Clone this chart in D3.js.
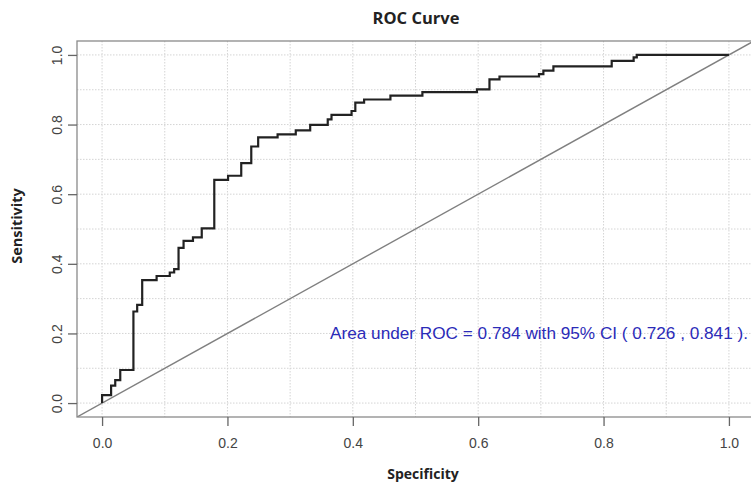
<!DOCTYPE html>
<html><head><meta charset="utf-8">
<script src="https://cdn.jsdelivr.net/npm/d3@7"></script>
<style>body{margin:0;background:#fff}svg{display:block}</style>
</head><body>
<script>
// Data: ROC step curve vertices (x = "Specificity" as plotted, y = Sensitivity)
const specificity = [0, 0, 0.0144, 0.021, 0.029, 0.050, 0.056, 0.064, 0.087, 0.108,
  0.115, 0.122, 0.130, 0.145, 0.159, 0.179, 0.201, 0.222, 0.238, 0.249,
  0.280, 0.309, 0.332, 0.360, 0.366, 0.398, 0.404, 0.418, 0.460, 0.511,
  0.598, 0.618, 0.634, 0.697, 0.704, 0.720, 0.813, 0.848, 0.853, 1.0];
const sensitivity = [0, 0.023, 0.05, 0.066, 0.095, 0.263, 0.282, 0.353, 0.365, 0.375,
  0.385, 0.446, 0.466, 0.476, 0.502, 0.641, 0.653, 0.689, 0.737, 0.763,
  0.772, 0.783, 0.799, 0.815, 0.828, 0.839, 0.863, 0.872, 0.883, 0.893,
  0.901, 0.930, 0.938, 0.945, 0.955, 0.967, 0.983, 0.993, 1.0, 1.0];
const xTicks = [0, 0.2, 0.4, 0.6, 0.8, 1.0];
const yTicks = [0, 0.2, 0.4, 0.6, 0.8, 1.0];
const gridVals = [0, 0.1, 0.2, 0.3, 0.4, 0.5, 0.6, 0.7, 0.8, 0.9, 1.0];
const titleText = "ROC Curve";
const xLabel = "Specificity";
const yLabel = "Sensitivity";
const aucText = "Area under ROC = 0.784 with 95% CI ( 0.726 , 0.841 ).";

const W = 751, H = 482;
const box = {left: 77, right: 754, top: 41, bottom: 417};
const svg = d3.select("body").append("svg").attr("width", W).attr("height", H);

const x = d3.scaleLinear().domain([-0.04, 1.04]).range([box.left, box.right]);
const y = d3.scaleLinear().domain([-0.04, 1.04]).range([box.bottom, box.top]);

svg.append("defs").append("clipPath").attr("id", "clip")
  .append("rect").attr("x", box.left).attr("y", box.top)
  .attr("width", box.right - box.left).attr("height", box.bottom - box.top);

// Grid
const grid = svg.append("g").attr("clip-path", "url(#clip)");
grid.selectAll(".gv").data(gridVals).join("line")
  .attr("x1", d => x(d)).attr("x2", d => x(d))
  .attr("y1", box.top).attr("y2", box.bottom)
  .attr("stroke", "#d4d4d4").attr("stroke-width", 1).attr("stroke-dasharray", "1.5,1.5");
grid.selectAll(".gh").data(gridVals).join("line")
  .attr("y1", d => y(d)).attr("y2", d => y(d))
  .attr("x1", box.left).attr("x2", box.right)
  .attr("stroke", "#d4d4d4").attr("stroke-width", 1).attr("stroke-dasharray", "1.5,1.5");

// Diagonal
svg.append("line").attr("clip-path", "url(#clip)")
  .attr("x1", x(-0.04)).attr("y1", y(-0.04)).attr("x2", x(1.04)).attr("y2", y(1.04))
  .attr("stroke", "#808080").attr("stroke-width", 1.4);

// ROC curve
const pts = specificity.map((v, i) => [v, sensitivity[i]]);
svg.append("path").datum(pts)
  .attr("d", d3.line().x(d => x(d[0])).y(d => y(d[1])).curve(d3.curveStepAfter))
  .attr("fill", "none").attr("stroke", "#222").attr("stroke-width", 2.2);

// Box
svg.append("rect").attr("x", box.left).attr("y", box.top)
  .attr("width", box.right - box.left).attr("height", box.bottom - box.top)
  .attr("fill", "none").attr("stroke", "#8a8a8a").attr("stroke-width", 1.3);

// Axes
const fmt = d3.format(".1f");
const xAxis = svg.append("g").attr("transform", `translate(0,${box.bottom})`)
  .call(d3.axisBottom(x).tickValues(xTicks).tickFormat(fmt).tickSize(9).tickPadding(12));
xAxis.select(".domain").remove();
xAxis.selectAll("line").attr("stroke", "#666").attr("stroke-width", 1.3);
xAxis.selectAll("text").attr("fill", "#444").style("font-family", "Liberation Sans, Arial, sans-serif").style("font-size", "14px");

const yAxis = svg.append("g").attr("transform", `translate(${box.left},0)`)
  .call(d3.axisLeft(y).tickValues(yTicks).tickFormat(fmt).tickSize(9).tickPadding(0));
yAxis.select(".domain").remove();
yAxis.selectAll("line").attr("stroke", "#666").attr("stroke-width", 1.3);
yAxis.selectAll("text").attr("fill", "#444")
  .style("font-family", "Liberation Sans, Arial, sans-serif").style("font-size", "14px")
  .attr("x", null).attr("dy", null)
  .attr("text-anchor", "middle")
  .attr("transform", "translate(-15,0) rotate(-90)");

// Title and labels
svg.append("text").attr("x", 416).attr("y", 24).attr("text-anchor", "middle")
  .style("font-family", "Open Sans, sans-serif").style("font-weight", "bold").style("font-size", "16.5px")
  .attr("fill", "#222").text(titleText);
svg.append("text").attr("x", 423).attr("y", 479).attr("text-anchor", "middle")
  .style("font-family", "Open Sans, sans-serif").style("font-weight", "bold").style("font-size", "14px")
  .attr("fill", "#222").text(xLabel);
svg.append("text").attr("transform", "translate(22,226) rotate(-90)").attr("text-anchor", "middle")
  .style("font-family", "Open Sans, sans-serif").style("font-weight", "bold").style("font-size", "14.5px")
  .attr("fill", "#222").text(yLabel);

// AUC annotation
svg.append("text").attr("x", 330).attr("y", 339)
  .style("font-family", "Liberation Sans, Arial, sans-serif").style("font-size", "17.2px")
  .attr("fill", "#2b2bb8").text(aucText);
</script>
</body></html>
